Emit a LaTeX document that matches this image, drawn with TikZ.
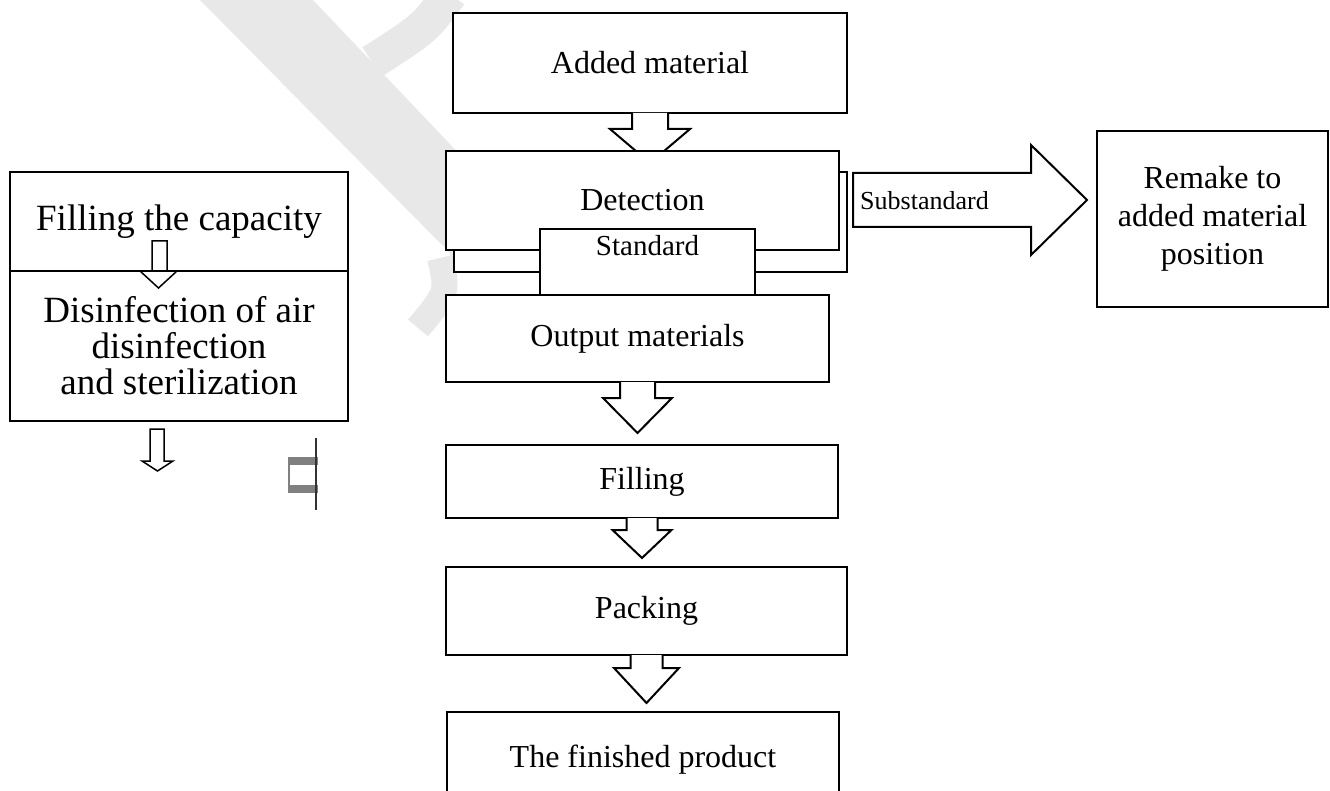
\documentclass[tikz,border=0pt]{standalone}
\usepackage{fontspec}
\setmainfont{Liberation Serif}
\usepackage{tikz}
\usetikzlibrary{calc}
\definecolor{wmgray}{gray}{0.91}
\tikzstyle{stage} = [draw, line width=2pt, fill=white, align=center, font=\fontsize{32}{38}\selectfont]
\tikzstyle{side} = [stage, font=\fontsize{37}{36}\selectfont]
\tikzstyle{tag} = [inner sep=0pt]
\tikzstyle{blk} = [draw, line width=2pt, fill=white, line join=miter]
\tikzstyle{slim} = [draw, line width=1.5pt, line join=miter]

\begin{document}
\begin{tikzpicture}[x=1pt,y=1pt,yscale=-1]
	\useasboundingbox (0,0) rectangle (1330,791);
	\clip (0,0) rectangle (1330,791);
	% watermark
	\fill[wmgray] (200,0) -- (313,0) -- (560,260) -- (452,262) .. controls (450,252) .. (440,243) -- cycle;
	\draw[wmgray, line width=26pt] (440,258) .. controls (448,292) .. (418,328);
	\draw[wmgray, line width=35pt] (450,-6) .. controls (425,28) .. (372,62);
	% main column
	\node[stage, minimum width=394pt, minimum height=100pt] (add) at (650,63) {Added material};
	\draw[blk] ($(add.south)+(-18,-1)$) -- ++(0,16) -- ++(-22,0) -- ++(40,34) -- ++(40,-34) -- ++(-22,0) -- ++(0,-16);
	\node[stage, minimum width=393pt, minimum height=100pt] (detback) at (650.5,222) {};
	\node[stage, minimum width=393pt, minimum height=99pt] (det) at (642.5,200.5) {Detection};
	\node[stage, minimum width=215pt, minimum height=66pt] (std) at (647.5,262) {};
	\node[tag, font=\fontsize{29}{30}\selectfont] (stdtag) at ($(std.north)+(0,18)$) {Standard};
	\node[stage, minimum width=383pt, minimum height=87pt] (out) at (637.5,338.5) {Output materials};
	\draw[blk] ($(out.south)+(-17.5,-1)$) -- ++(0,16) -- ++(-17,0) -- ++(34.5,35) -- ++(34.5,-35) -- ++(-17,0) -- ++(0,-16);
	\node[stage, minimum width=392pt, minimum height=73pt] (filling) at (642,481.5) {Filling};
	\draw[blk] ($(filling.south)+(-15.5,-1)$) -- ++(0,12) -- ++(-14,0) -- ++(29.5,28) -- ++(29.5,-28) -- ++(-14,0) -- ++(0,-12);
	\node[stage, minimum width=401pt, minimum height=88pt] (pack) at (646.5,611) {Packing};
	\draw[blk] ($(pack.south)+(-16,-1)$) -- ++(0,13) -- ++(-16.5,0) -- ++(32.5,35) -- ++(32.5,-35) -- ++(-16.5,0) -- ++(0,-13);
	\node[stage, minimum width=392pt, minimum height=96pt] (fin) at (643,760) {The finished product};
	% substandard branch
	\draw[blk] ($(det.east)+(13,-27.5)$) -- ++(178,0) -- ++(0,-28) -- ++(56,55) -- ++(-56,55) -- ++(0,-28) -- ++(-178,0) -- cycle;
	\node[tag, font=\fontsize{26}{28}\selectfont, anchor=west] (subtag) at ($(det.east)+(20,0)$) {Substandard};
	\node[stage, minimum width=231pt, minimum height=176pt] (remake) at (1212.5,219) {Remake to\\added material\\position};
	% left column
	\node[side, minimum width=338pt, minimum height=99pt] (cap) at (179,221.5) {Filling the capacity};
	\node[side, minimum width=338pt, minimum height=150pt] (dis) at (179,346) {Disinfection of air\\disinfection\\and sterilization};
	\draw[slim] ($(cap.south)+(-27,-31)$) -- ++(0,30) -- ++(-12,0) -- ++(18.5,17) -- ++(18.5,-17) -- ++(-10,0) -- ++(0,-30) -- cycle;
	\draw[slim] ($(dis.south)+(-29,7)$) -- ++(0,32) -- ++(-8,0) -- ++(15.5,10) -- ++(15.5,-10) -- ++(-9,0) -- ++(0,-32) -- cycle;
	% broken glyph
	\fill[black!50] (288,457) rectangle (318,465);
	\fill[black!50] (288,485) rectangle (318,493);
	\draw[black!50, line width=1.5pt] (289,457) -- (289,493);
	\draw[black!80, line width=2pt] (316,438) -- (316,510);
\end{tikzpicture}
\end{document}
